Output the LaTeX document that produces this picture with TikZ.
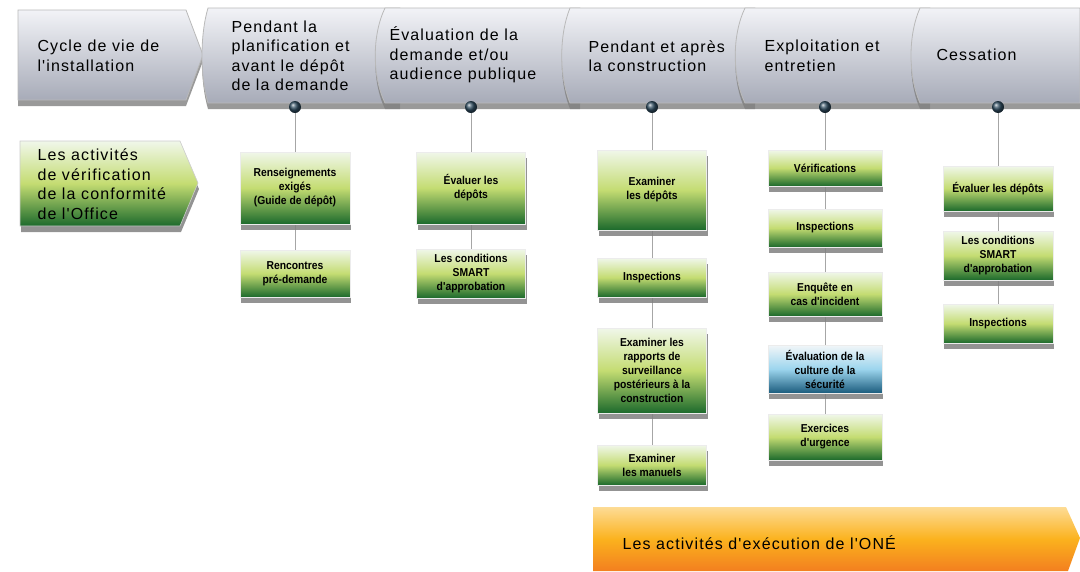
\documentclass[tikz,border=0pt]{standalone}
\usepackage{fontspec}
\setmainfont{Liberation Sans}
\newfontfamily\headfont[LetterSpace=7]{Liberation Sans}
\newfontfamily\boxfont[FakeStretch=0.9]{Liberation Sans}
\usetikzlibrary{shadows,backgrounds}
\definecolor{silverTop}{HTML}{F2F3F7}
\definecolor{silverBot}{HTML}{A7ABB8}
\definecolor{greenTop}{HTML}{F0F7EA}
\definecolor{greenMid}{HTML}{C4DC72}
\definecolor{greenBot}{HTML}{1C6A2C}
\definecolor{blueTop}{HTML}{F2F6F8}
\definecolor{blueMid}{HTML}{9CD5EE}
\definecolor{blueBot}{HTML}{1B5C7D}
\definecolor{orangeTop}{HTML}{FCC44E}
\definecolor{orangeMid}{HTML}{FBB21E}
\definecolor{orangeBot}{HTML}{F37F1F}
\definecolor{dotBlue}{HTML}{2E4B5F}
\tikzset{
  stage/.style={draw=gray!55, line width=0.8pt, top color=silverTop, bottom color=silverBot,
    drop shadow={opacity=0.8, shadow xshift=0pt, shadow yshift=-6pt}},
  head/.style={anchor=west, align=left, font=\headfont\fontsize{16}{19.5}\selectfont},
  check/.style={draw=white!85!gray, line width=0.6pt, top color=greenTop, bottom color=greenBot,
    middle color=greenMid, align=center, inner sep=2pt,
    font=\boxfont\bfseries\fontsize{11.5}{14}\selectfont,
    drop shadow={opacity=0.85, shadow xshift=1pt, shadow yshift=-6pt}},
  safety/.style={check, top color=blueTop, bottom color=blueBot, middle color=blueMid},
  dot/.style={circle, minimum size=12pt, inner sep=0pt, ball color=dotBlue},
  link/.style={draw=gray!70, line width=0.8pt}
}
\begin{document}
\begin{tikzpicture}[x=1pt, y=-1pt]
\useasboundingbox (0,0) rectangle (1080,571);
% bandeau du cycle de vie
\path[stage] (18,10) -- (186,10) -- (203,55) -- (186,100) -- (18,100) -- cycle;
\foreach \xl/\xr/\bw in {208/400/8, 385/580/13, 570/755/11, 745/930/13, 920/1080/12}
  \path[stage] (\xl,8) .. controls (\xl-\bw,35) and (\xl-\bw,76) .. (\xl,103)
    -- (\xr,103) -- (\xr,8) -- cycle;
\node[head] (cyc) at (34,56) {Cycle de vie de\\l'installation};
\node[head] (s1) at (228,56) {Pendant la\\planification et\\avant le dépôt\\de la demande};
\node[head] (s2) at (386,55) {Évaluation de la\\demande et/ou\\audience publique};
\node[head] (s3) at (585,56) {Pendant et après\\la construction};
\node[head] (s4) at (761,56) {Exploitation et\\entretien};
\node[head] (s5) at (933,55) {Cessation};
% activites de verification
\path[check, draw=gray!40] (20,141) -- (180,141) -- (198,183) -- (180,226) -- (20,226) -- cycle;
\node[head] (verif) at (34,184) {Les activités\\de vérification\\de la conformité\\de l'Office};
\node[dot] (d1) at (295,107) {};
\node[dot] (d2) at (471,107) {};
\node[dot] (d3) at (652,107) {};
\node[dot] (d4) at (825,107) {};
\node[dot] (d5) at (998,107) {};
\node[check, minimum width=110pt, minimum height=72pt] (c1a) at (295,188) {Renseignements\\exigés\\(Guide de dépôt)};
\node[check, minimum width=110pt, minimum height=47pt] (c1b) at (295,273.5) {Rencontres\\pré-demande};
\node[check, minimum width=109pt, minimum height=72pt] (c2a) at (471,188) {Évaluer les\\dépôts};
\node[check, minimum width=109pt, minimum height=49pt] (c2b) at (471,273.5) {Les conditions\\SMART\\d'approbation};
\node[check, minimum width=109pt, minimum height=80pt] (c3a) at (652,190) {Examiner\\les dépôts};
\node[check, minimum width=109pt, minimum height=39pt] (c3b) at (652,277.5) {Inspections};
\node[check, minimum width=109pt, minimum height=85pt] (c3c) at (652,370.5) {Examiner les\\rapports de\\surveillance\\postérieurs à la\\construction};
\node[check, minimum width=109pt, minimum height=40pt] (c3d) at (652,465) {Examiner\\les manuels};
\node[check, minimum width=114pt, minimum height=36pt] (c4a) at (825,168) {Vérifications};
\node[check, minimum width=114pt, minimum height=38pt] (c4b) at (825,228) {Inspections};
\node[check, minimum width=114pt, minimum height=44pt] (c4c) at (825,294) {Enquête en\\cas d'incident};
\node[safety, minimum width=114pt, minimum height=48pt] (c4d) at (825,369) {Évaluation de la\\culture de la\\sécurité};
\node[check, minimum width=114pt, minimum height=46pt] (c4e) at (825,437) {Exercices\\d'urgence};
\node[check, minimum width=110pt, minimum height=45pt] (c5a) at (998,188.5) {Évaluer les dépôts};
\node[check, minimum width=110pt, minimum height=49pt] (c5b) at (998,255.5) {Les conditions\\SMART\\d'approbation};
\node[check, minimum width=110pt, minimum height=39pt] (c5c) at (998,323.5) {Inspections};
\begin{pgfonlayer}{background}
\draw[link] (d1) -- (c1a) -- (c1b);
\draw[link] (d2) -- (c2a) -- (c2b);
\draw[link] (d3) -- (c3a) -- (c3b) -- (c3c) -- (c3d);
\draw[link] (d4) -- (c4a) -- (c4b) -- (c4c) -- (c4d) -- (c4e);
\draw[link] (d5) -- (c5a) -- (c5b) -- (c5c);
\end{pgfonlayer}
% activites d'execution
\path[top color=orangeTop!60!white, bottom color=orangeBot, middle color=orangeMid]
  (593,507) -- (1066,507) -- (1080,538) -- (1068,571) -- (593,571) -- cycle;
\node[head, font=\headfont\fontsize{16}{18}\selectfont] (exec) at (619,543) {Les activités d'exécution de l'ONÉ};
\end{tikzpicture}
\end{document}
